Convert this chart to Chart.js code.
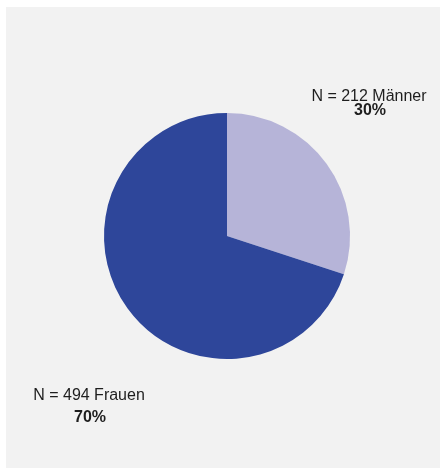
<!DOCTYPE html>
<html>
<head>
<meta charset="utf-8">
<script src="https://cdn.jsdelivr.net/npm/chart.js@4"></script>
<style>
  html, body { margin: 0; padding: 0; background: #fff; }
  #panel {
    position: absolute; left: 6px; top: 7px;
    width: 434px; height: 461px; background: #f2f2f2;
  }
</style>
</head>
<body>
<div id="panel"><canvas id="chart" width="434" height="461"></canvas></div>
<script>
const labels = ['Männer', 'Frauen'];
const counts = [212, 494];
const percents = [30, 70];
const colors = ['#b6b4d8', '#2e469a'];

// text labels next to the slices
const sliceLabels = {
    id: 'sliceLabels',
    afterDraw(chart) {
        const c = chart.ctx;
        const a = chart.chartArea;
        const cx = (a.left + a.right) / 2;
        const cy = (a.top + a.bottom) / 2;
        c.save();
        c.fillStyle = '#1e1e1e';
        c.textAlign = 'center';
        c.textBaseline = 'alphabetic';
        // Männer, upper right
        c.font = '16px "Liberation Sans", Arial, sans-serif';
        c.fillText('N = ' + counts[0] + ' ' + labels[0], cx + 142, cy - 135);
        c.font = 'bold 16px "Liberation Sans", Arial, sans-serif';
        c.fillText(percents[0] + '%', cx + 143, cy - 121);
        // Frauen, lower left
        c.font = '16px "Liberation Sans", Arial, sans-serif';
        c.fillText('N = ' + counts[1] + ' ' + labels[1], cx - 138, cy + 164);
        c.font = 'bold 16px "Liberation Sans", Arial, sans-serif';
        c.fillText(percents[1] + '%', cx - 137, cy + 186);
        c.restore();
    }
};

new Chart(document.getElementById('chart'), {
    type: 'pie',
    data: {
        labels: labels,
        datasets: [{
            data: counts,
            backgroundColor: colors,
            borderWidth: 0
        }]
    },
    options: {
        responsive: false,
        animation: false,
        layout: { padding: { left: 98, right: 90, top: 106, bottom: 109 } },
        plugins: {
            legend: { display: false },
            tooltip: { enabled: false }
        }
    },
    plugins: [sliceLabels]
});
</script>
</body>
</html>
